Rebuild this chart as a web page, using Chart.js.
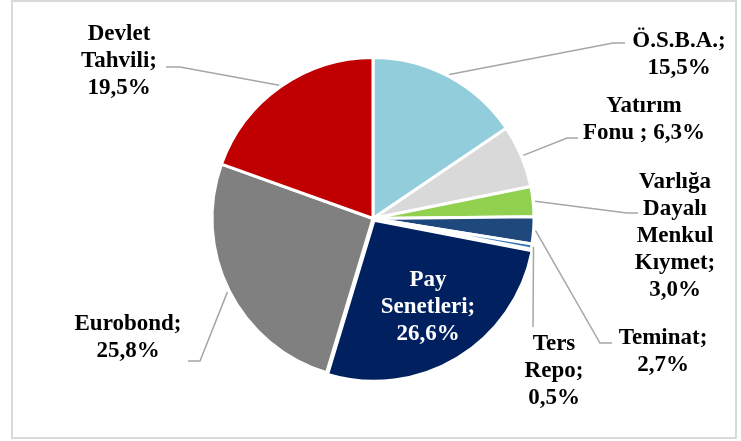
<!DOCTYPE html>
<html>
<head>
<meta charset="utf-8">
<script src="https://cdn.jsdelivr.net/npm/chart.js@4"></script>
<style>
  html, body { margin: 0; padding: 0; background: #ffffff; }
  canvas { display: block; }
</style>
</head>
<body>
<canvas id="c" width="741" height="441"></canvas>
<script>
// ---- data ----
const categories = ["Ö.S.B.A.", "Yatırım Fonu ", "Varlığa Dayalı Menkul Kıymet", "Teminat", "Ters Repo", "Pay Senetleri", "Eurobond", "Devlet Tahvili"];
const values = [15.5, 6.3, 3.0, 2.7, 0.5, 26.6, 25.8, 19.5];

// ---- styles / layout ----
const colors = ["#92CDDC", "#D9D9D9", "#92D050", "#1F497D", "#2E75B6", "#002060", "#808080", "#C00000"];
const offsets = [0, 0, 0, 0, 0, 8, 0, 0];
const lineGroups = [[1,1],[1,3],[1,1,1,1,1],[1,1],[1,1,1],[1,1,1],[1,1],[1,1,1]];
const labelX = [679, 644, 675, 663, 554, 428, 128, 119];
const labelY = [47, 112, 188, 344, 350, 286, 330, 40];
const labelColor = ["#000","#000","#000","#000","#000","#fff","#000","#000"];
const leaders = [
  [[613,43],[625,43]],
  [[567,138],[578,138]],
  [[627,213],[638,213]],
  [[600,343],[612,343]],
  [[533,327]],
  null,
  [[200,361],[188,361]],
  [[180,67],[166,67]]
];
const LINE_H = 27;
const FONT = 'bold 23px "Liberation Serif", "Times New Roman", serif';

function fmt(v) { return v.toFixed(1).replace('.', ',') + '%'; }

function labelLines(i) {
  const words = (categories[i] + '; ' + fmt(values[i])).split(' ').filter(w => w.length);
  const out = [];
  let k = 0;
  for (const n of lineGroups[i]) {
    out.push(words.slice(k, k + n).join(' '));
    k += n;
  }
  return out;
}

const framePlugin = {
  id: 'frame',
  beforeDraw(chart) {
    const ctx = chart.ctx;
    ctx.save();
    ctx.fillStyle = '#ffffff';
    ctx.fillRect(0, 0, chart.width, chart.height);
    ctx.strokeStyle = '#D9D9D9';
    ctx.lineWidth = 2;
    ctx.strokeRect(12, 1, 724, 437);
    ctx.restore();
  }
};

const labelPlugin = {
  id: 'pieLabels',
  afterDatasetsDraw(chart) {
    const ctx = chart.ctx;
    const meta = chart.getDatasetMeta(0);
    ctx.save();
    meta.data.forEach((arc, i) => {
      const p = arc.getProps(['x', 'y', 'startAngle', 'endAngle', 'outerRadius'], true);
      const mid = (p.startAngle + p.endAngle) / 2;
      const ax = p.x + Math.cos(mid) * (p.outerRadius + 2);
      const ay = p.y + Math.sin(mid) * (p.outerRadius + 2);
      if (leaders[i]) {
        ctx.beginPath();
        ctx.strokeStyle = '#A6A6A6';
        ctx.lineWidth = 1.5;
        ctx.moveTo(ax, ay);
        leaders[i].forEach(pt => ctx.lineTo(pt[0], pt[1]));
        ctx.stroke();
      }
      ctx.font = FONT;
      ctx.fillStyle = labelColor[i];
      ctx.textAlign = 'center';
      ctx.textBaseline = 'alphabetic';
      labelLines(i).forEach((t, j) => {
        ctx.fillText(t, labelX[i], labelY[i] + j * LINE_H);
      });
    });
    ctx.restore();
  }
};

new Chart(document.getElementById('c'), {
  type: 'pie',
  data: {
    labels: categories,
    datasets: [{
      data: values,
      backgroundColor: colors,
      borderColor: '#ffffff',
      borderWidth: 3,
      offset: offsets
    }]
  },
  options: {
    responsive: false,
    animation: false,
    devicePixelRatio: 1,
    layout: { padding: { left: 200, right: 195, top: 52, bottom: 56 } },
    plugins: {
      legend: { display: false },
      tooltip: { enabled: false }
    }
  },
  plugins: [framePlugin, labelPlugin]
});
</script>
</body>
</html>
